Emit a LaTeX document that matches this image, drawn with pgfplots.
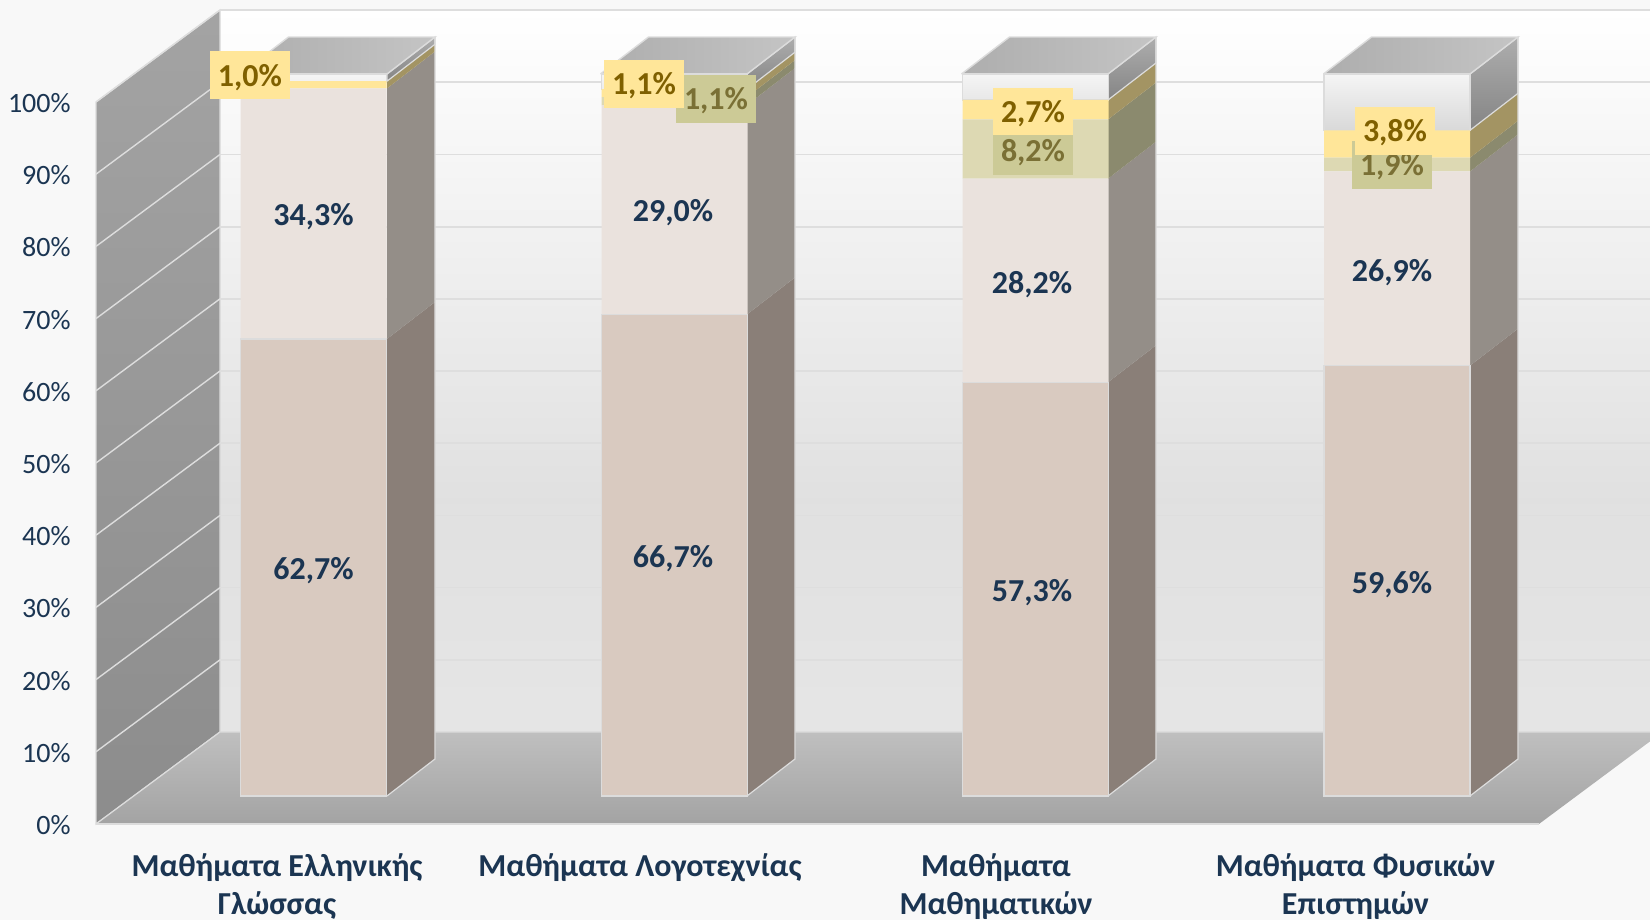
\documentclass[border=0pt]{standalone}
\usepackage{pgfplots}
\pgfplotsset{compat=1.18}
\usepackage{fontspec}
\setmainfont{Carlito}
\definecolor{txt}{HTML}{1B3552}
\definecolor{pagebg}{HTML}{F8F8F8}
\definecolor{edge}{HTML}{DCDCDC}
\definecolor{gridc}{HTML}{DEDEDE}
\definecolor{wline}{HTML}{DDDDDD}
\definecolor{brown}{HTML}{D9CAC0}
\definecolor{beige}{HTML}{EAE2DD}
\definecolor{olive}{HTML}{DDD9B3}
\definecolor{yell}{HTML}{FFE699}
\definecolor{brownS}{HTML}{8A7F78}
\definecolor{beigeS}{HTML}{948E88}
\definecolor{oliveS}{HTML}{8B8A6E}
\definecolor{yellS}{HTML}{A39463}
\definecolor{oliveB}{HTML}{CCCA96}
\definecolor{oliveT}{HTML}{7A7035}
\definecolor{yellT}{HTML}{7F6000}
% side face: right-front x, lower %, upper %, options
\newcommand\sideface[4]{%
  \edef\tmp{\noexpand\addplot[#4] coordinates {(#1,\fpeval{#2+3.88}) (\fpeval{#1+48},\fpeval{#2+9.0}) (\fpeval{#1+48},\fpeval{#3+9.0}) (#1,\fpeval{#3+3.88}) (#1,\fpeval{#2+3.88})};}\tmp}
% top face: left-front x
\newcommand\topface[1]{%
  \edef\tmp{\noexpand\addplot[left color=black!32,right color=black!23,draw=edge,line width=0.7pt] coordinates {(#1,103.88) (\fpeval{#1+146.5},103.88) (\fpeval{#1+194.5},109.0) (\fpeval{#1+48},109.0) (#1,103.88)};}\tmp}
\pgfplotsset{canvas/.style={
  width=825pt,height=460pt,scale only axis,
  xmin=0,xmax=1650,ymin=-13.3,ymax=114.13}}
\newcommand\lab[3]{\node[font=\fontsize{16}{19}\selectfont\bfseries,text=txt,inner sep=0pt] at (axis cs:#1,#2) {#3};}
\newcommand\ybox[3]{\node[fill=yell,text=yellT,font=\fontsize{16}{19}\selectfont\bfseries,inner sep=0pt,text height=12pt,text depth=1.2pt,minimum width=40pt,minimum height=23.8pt] at (axis cs:#1,#2) {#3};}
\newcommand\obox[3]{\node[fill=oliveB,text=oliveT,font=\fontsize{16}{19}\selectfont\bfseries,inner sep=0pt,text height=12pt,text depth=1.2pt,minimum width=40pt,minimum height=23.8pt] at (axis cs:#1,#2) {#3};}
\begin{document}
\begin{tikzpicture}
\useasboundingbox (0,0) rectangle (825pt,460pt);
\fill[pagebg] (0,0) rectangle (825pt,460pt);
\begin{axis}[canvas,
  axis line style={draw=none},tick style={draw=none},
  xtick={277,640,996,1355.5},
  xticklabels={{Μαθήματα Ελληνικής\\Γλώσσας},{Μαθήματα Λογοτεχνίας},{Μαθήματα\\Μαθηματικών},{Μαθήματα Φυσικών\\Επιστημών}},
  xticklabel style={align=center,font=\fontsize{16}{19}\selectfont\bfseries,text=txt,anchor=north,yshift=36.6pt},
  ytick={0,10,...,100},
  yticklabels={0\%,10\%,20\%,30\%,40\%,50\%,60\%,70\%,80\%,90\%,100\%},
  yticklabel style={font=\fontsize{14}{16}\selectfont,text=txt,anchor=east,inner sep=0pt,xshift=35.5pt,yshift=-0.5pt},
]
% back wall
\shade[top color=white,bottom color=black!12] (axis cs:220,112.74) rectangle (axis cs:1650,45);
\shade[top color=black!12,bottom color=black!10] (axis cs:220,45) rectangle (axis cs:1650,12.74);
% left wall
\shade[top color=black!36,bottom color=black!45,draw=edge,line width=0.6pt] (axis cs:96,0) -- (axis cs:220,12.74) -- (axis cs:220,112.74) -- (axis cs:96,100) -- cycle;
% floor
\shade[top color=black!25,bottom color=black!36] (axis cs:96,0) -- (axis cs:1539,0) -- (axis cs:1650,11.44) -- (axis cs:1650,12.74) -- (axis cs:220,12.74) -- cycle;
\draw[edge,line width=0.6pt] (axis cs:96,0) -- (axis cs:1539,0);
\draw[edge,line width=0.6pt] (axis cs:96,0) -- (axis cs:220,12.74) -- (axis cs:1650,12.74);
% grid
\pgfplotsinvokeforeach{10,20,...,100}{
  \draw[wline,line width=0.7pt] (axis cs:96,#1) -- (axis cs:220,#1+12.74);
  \draw[gridc,line width=0.9pt] (axis cs:220,#1+12.74) -- (axis cs:1650,#1+12.74);
}
% side faces
\sideface{387}{0}{63.3}{fill=brownS,draw=none}
\sideface{387}{63.3}{98}{fill=beigeS,draw=none}
\sideface{387}{98}{99}{fill=yellS,draw=none}
\sideface{387}{99}{100}{top color=black!32,bottom color=black!48,draw=edge,line width=0.6pt}
\sideface{747}{0}{66.7}{fill=brownS,draw=none}
\sideface{747}{66.7}{95.7}{fill=beigeS,draw=none}
\sideface{747}{95.7}{96.8}{fill=oliveS,draw=none}
\sideface{747}{96.8}{97.9}{fill=yellS,draw=none}
\sideface{747}{97.9}{100}{top color=black!32,bottom color=black!48,draw=edge,line width=0.6pt}
\sideface{1108}{0}{57.3}{fill=brownS,draw=none}
\sideface{1108}{57.3}{85.5}{fill=beigeS,draw=none}
\sideface{1108}{85.5}{93.7}{fill=oliveS,draw=none}
\sideface{1108}{93.7}{96.4}{fill=yellS,draw=none}
\sideface{1108}{96.4}{100}{top color=black!32,bottom color=black!48,draw=edge,line width=0.6pt}
\sideface{1470}{0}{59.6}{fill=brownS,draw=none}
\sideface{1470}{59.6}{86.5}{fill=beigeS,draw=none}
\sideface{1470}{86.5}{88.4}{fill=oliveS,draw=none}
\sideface{1470}{88.4}{92.2}{fill=yellS,draw=none}
\sideface{1470}{92.2}{100}{top color=black!32,bottom color=black!48,draw=edge,line width=0.6pt}
\draw[edge,line width=0.6pt] (axis cs:387,3.88) -- (axis cs:435,9.0) -- (axis cs:435,109);
\draw[edge,line width=0.6pt] (axis cs:747,3.88) -- (axis cs:795,9.0) -- (axis cs:795,109);
\draw[edge,line width=0.6pt] (axis cs:1108,3.88) -- (axis cs:1156,9.0) -- (axis cs:1156,109);
\draw[edge,line width=0.6pt] (axis cs:1470,3.88) -- (axis cs:1518,9.0) -- (axis cs:1518,109);
\topface{240.5}
\topface{600.5}
\topface{961.5}
\topface{1323.5}
\end{axis}
\begin{axis}[canvas,hide axis,ybar stacked,bar width=73pt]
\addplot[draw=none,fill=none] coordinates {(313.5,3.88) (674.5,3.88) (1035.5,3.88) (1397,3.88)};
\addplot[fill=brown,draw=edge,line width=0.6pt] coordinates {(313.5,63.3) (674.5,66.7) (1035.5,57.3) (1397,59.6)};
\addplot[fill=beige,draw=none] coordinates {(313.5,34.7) (674.5,29.0) (1035.5,28.2) (1397,26.9)};
\addplot[fill=olive,draw=none] coordinates {(313.5,0) (674.5,1.1) (1035.5,8.2) (1397,1.9)};
\addplot[fill=yell,draw=none] coordinates {(313.5,1.0) (674.5,1.1) (1035.5,2.7) (1397,3.8)};
\addplot[top color=black!4,bottom color=black!15,draw=edge,line width=0.6pt] coordinates {(313.5,1.0) (674.5,2.1) (1035.5,3.6) (1397,7.8)};
\end{axis}
\begin{axis}[canvas,hide axis]
% data labels
\lab{313.6}{35.1}{62,7\%}
\lab{313.6}{84.1}{34,3\%}
\lab{673}{36.7}{66,7\%}
\lab{673}{84.7}{29,0\%}
\lab{1032}{32.0}{57,3\%}
\lab{1032}{74.7}{28,2\%}
\lab{1392}{33.2}{59,6\%}
\lab{1392}{76.4}{26,9\%}
\obox{716}{100.4}{1,1\%}
\obox{1033}{93.2}{8,2\%}
\obox{1392}{91.3}{1,9\%}
\ybox{250}{103.7}{1,0\%}
\ybox{644}{102.5}{1,1\%}
\ybox{1033}{98.7}{2,7\%}
\ybox{1395}{96.0}{3,8\%}
\end{axis}
\end{tikzpicture}
\end{document}
